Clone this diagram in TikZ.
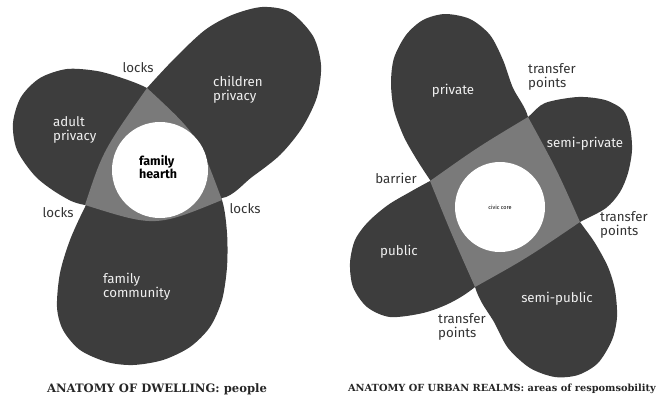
\documentclass[tikz,border=0pt]{standalone}
\usepackage{fontspec}
\setsansfont{Fira Sans}
\newfontfamily\capfont{DejaVu Serif}
\usepackage{tikz}

\begin{document}
\begin{tikzpicture}[x=1pt, y=-1pt,
    lobe/.style={fill=black!76},
    overlap/.style={fill=black!52},
    core/.style={fill=white},
    inlabel/.style={font=\sffamily\fontsize{13.3}{14}\selectfont,
                    text=black!6, align=left, inner sep=0pt},
    outlabel/.style={font=\sffamily\fontsize{13.3}{14}\selectfont,
                     text=black!80, align=left, inner sep=0pt},
    caption/.style={font=\capfont\bfseries\fontsize{11.6}{13}\selectfont,
                    text=black!85, inner sep=0pt},
    ]
\useasboundingbox (0,0) rectangle (660,400);

% dwelling: three lobes round the hearth
\fill[lobe] plot[smooth cycle] coordinates {(147,88) (122,78) (97,71) (67,69) (40,78)
    (21,97) (13,123) (17,150) (36,177) (62,196) (85,205) (150,212) (200,175) (185,110)};
\fill[lobe] plot[smooth cycle] coordinates {(147,88) (176,57) (205,30) (232,15) (262,7)
    (290,12) (313,36) (321,65) (317,97) (302,128) (280,155) (252,177) (222,198)
    (175,185) (115,125)};
\fill[lobe] plot[smooth cycle] coordinates {(222,200) (227,233) (227,267) (222,300)
    (210,327) (190,347) (163,360) (133,365) (107,362) (80,350) (63,330) (57,307)
    (60,273) (70,240) (85,207) (105,170) (150,140) (205,165)};
\fill[overlap] (147,88) .. controls (102.7,151.2) .. (85,205)
    .. controls (155.5,227.2) .. (222,200)
    .. controls (197.8,135.1) .. cycle;
\fill[core] (160,170) circle (48);

% urban realms: four lobes round the core
\fill[lobe] plot[smooth cycle] coordinates {(430,180) (417,160) (404,137) (394,110)
    (391,83) (394,58) (406,35) (423,20) (445,14) (470,19) (490,35) (503,60)
    (513,88) (528,117) (532,165) (456,220)};
\fill[lobe] plot[smooth cycle] coordinates {(528,117) (545,103) (578,97) (605,100)
    (623,110) (630,127) (632,150) (628,173) (620,192) (606,208) (580,222)
    (535,245) (494,145)};
\fill[lobe] plot[smooth cycle] coordinates {(580,222) (595,243) (608,267) (615,290)
    (617,317) (612,340) (598,363) (578,375) (555,377) (530,368) (508,348)
    (494,322) (482,303) (475,287) (465,250) (550,180)};
\fill[lobe] plot[smooth cycle] coordinates {(475,287) (450,303) (423,313) (390,317)
    (367,307) (353,287) (350,263) (355,240) (368,222) (388,205) (410,192)
    (430,181) (470,160) (515,250)};
\fill[overlap] (430,181) .. controls (478,147) .. (528,117)
    .. controls (557,170) .. (580,222)
    .. controls (527,258) .. (475,287)
    .. controls (451,233) .. cycle;
\fill[core] (500,207) circle (45);

% labels
\node[outlabel] (lockstop) at (138,68) {locks};
\node[inlabel, anchor=west] (children) at (213,90) {children\\privacy};
\node[inlabel, anchor=west] (adult) at (53,130) {adult\\privacy};
\node[outlabel, anchor=west, font=\sffamily\bfseries\fontsize{12.5}{12.5}\selectfont, text=black]
    (hearth) at (139,167) {family\\hearth};
\node[outlabel] (locksleft) at (58,213) {locks};
\node[outlabel] (locksright) at (245,209) {locks};
\node[inlabel, anchor=west] (community) at (103,287) {family\\community};
\node[caption] (dwelling) at (157,389) {ANATOMY OF DWELLING: people};

\node[inlabel] (private) at (453,91) {private};
\node[outlabel, anchor=west] (transfertop) at (528,77) {transfer\\points};
\node[inlabel] (semiprivate) at (585,144) {semi-private};
\node[outlabel] (barrier) at (396,178) {barrier};
\node[font=\sffamily\fontsize{5.5}{5.5}\selectfont, inner sep=0pt] (civic) at (500,207) {civic core};
\node[outlabel, anchor=west] (transferright) at (600,225) {transfer\\points};
\node[inlabel] (public) at (399,252) {public};
\node[outlabel, anchor=west] (transferbottom) at (438,327) {transfer\\points};
\node[inlabel] (semipublic) at (557,299) {semi-public};
\node[caption, font=\capfont\bfseries\fontsize{9.8}{11}\selectfont] (realms) at (502,389)
    {ANATOMY OF URBAN REALMS: areas of respomsobility};
\end{tikzpicture}
\end{document}
